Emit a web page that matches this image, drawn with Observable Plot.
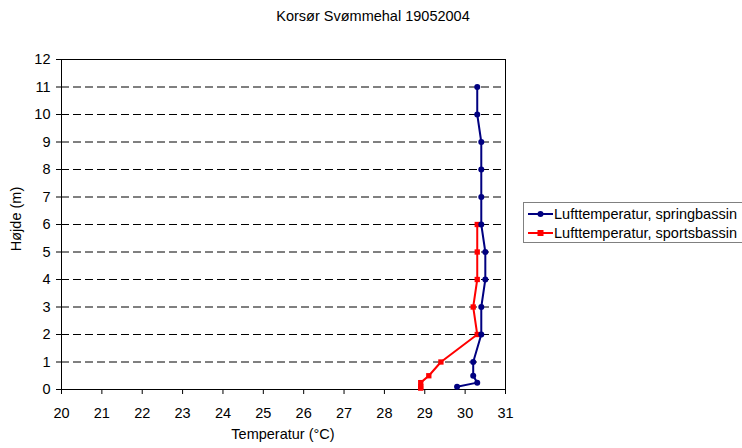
<!DOCTYPE html>
<html>
<head>
<meta charset="utf-8">
<script src="https://cdn.jsdelivr.net/npm/d3@7"></script>
<script src="https://cdn.jsdelivr.net/npm/@observablehq/plot@0.6"></script>
<style>
  html, body { margin: 0; padding: 0; background: #fff; }
  body { font-family: "Liberation Sans", Arial, sans-serif; color: #000; }
  #wrap { position: relative; width: 742px; height: 448px; overflow: hidden; }
  .title { position: absolute; top: 8px; left: 0; width: 746px; text-align: center; font-size: 14.5px; line-height: 17px; }
  .xlabel { position: absolute; top: 426px; left: 0; width: 566px; text-align: center; font-size: 14.5px; line-height: 17px; }
  .ylabel { position: absolute; left: 16px; top: 219px; font-size: 14.5px; line-height: 17px; transform: translate(-50%, -50%) rotate(-90deg); white-space: nowrap; }
  .legend { position: absolute; left: 523px; top: 202px; width: 240px; height: 41px; border: 1px solid #808080; box-sizing: border-box; font-size: 14.5px; }
  .legend .row { position: absolute; left: 4px; height: 18px; display: flex; align-items: center; white-space: nowrap; }
  .legend svg { margin-right: 1px; }
</style>
</head>
<body>
<div id="wrap">
  <div class="title">Korsør Svømmehal 19052004</div>
  <div id="chart"></div>
  <div class="xlabel">Temperatur (°C)</div>
  <div class="ylabel">Højde (m)</div>
  <div class="legend" id="legend"></div>
</div>
<script>
// Air temperature profiles (height in m, temperature in °C)
const springHeight = [0.1, 0.25, 0.5, 1, 2, 3, 4, 5, 6, 7, 8, 9, 10, 11];
const springTemp   = [29.8, 30.3, 30.2, 30.2, 30.4, 30.4, 30.5, 30.5, 30.4, 30.4, 30.4, 30.4, 30.3, 30.3];
const sportsHeight = [0.05, 0.1, 0.25, 0.5, 1, 2, 3, 4, 5, 6];
const sportsTemp   = [28.9, 28.9, 28.9, 29.1, 29.4, 30.3, 30.2, 30.3, 30.3, 30.3];

const seriesNames = ["Lufttemperatur, springbassin", "Lufttemperatur, sportsbassin"];
const seriesColors = ["#000080", "#ff0000"];

const xTicks = d3.range(20, 32);
const yTicks = d3.range(0, 13);
const gridLevels = d3.range(1, 12);

const spring = springHeight.map((h, i) => ({h, t: springTemp[i]}));
const sports = sportsHeight.map((h, i) => ({h, t: sportsTemp[i]}));

const chart = Plot.plot({
  width: 742,
  height: 448,
  marginLeft: 61,
  marginRight: 237,
  marginTop: 59,
  marginBottom: 59,
  style: {fontFamily: "Liberation Sans, Arial, sans-serif", fontSize: "14.5px", color: "#000", background: "#fff"},
  x: {domain: [20, 31]},
  y: {domain: [0, 12]},
  marks: [
    Plot.ruleY(gridLevels, {stroke: "#000", strokeWidth: 1, strokeDasharray: "8,4"}),
    Plot.frame({stroke: "#000", strokeWidth: 1}),
    Plot.axisX({ticks: xTicks, tickSize: 5, tickPadding: 13, tickFormat: d => d, label: null, stroke: "#000"}),
    Plot.axisY({ticks: yTicks, tickSize: 5, tickPadding: 6, tickFormat: d => d, label: null, stroke: "#000"}),
    Plot.line(sports, {x: "t", y: "h", stroke: seriesColors[1], strokeWidth: 2}),
    Plot.dot(sports, {x: "t", y: "h", symbol: "square", r: 3, fill: seriesColors[1], stroke: "none"}),
    Plot.line(spring, {x: "t", y: "h", stroke: seriesColors[0], strokeWidth: 2}),
    Plot.dot(spring, {x: "t", y: "h", symbol: "circle", r: 3, fill: seriesColors[0], stroke: "none"})
  ]
});
document.getElementById("chart").appendChild(chart);

// Legend entries
const legend = document.getElementById("legend");
seriesNames.forEach((name, i) => {
  const row = document.createElement("div");
  row.className = "row";
  row.style.top = (i === 0 ? 2 : 21) + "px";
  const sw = d3.create("svg").attr("width", 25).attr("height", 10);
  sw.append("line").attr("x1", 0).attr("x2", 25).attr("y1", 5).attr("y2", 5)
    .attr("stroke", seriesColors[i]).attr("stroke-width", 2);
  if (i === 0) sw.append("circle").attr("cx", 12.5).attr("cy", 5).attr("r", 3).attr("fill", seriesColors[i]);
  else sw.append("rect").attr("x", 9.5).attr("y", 2).attr("width", 6).attr("height", 6).attr("fill", seriesColors[i]);
  row.appendChild(sw.node());
  const label = document.createElement("span");
  label.textContent = name;
  row.appendChild(label);
  legend.appendChild(row);
});
</script>
</body>
</html>
